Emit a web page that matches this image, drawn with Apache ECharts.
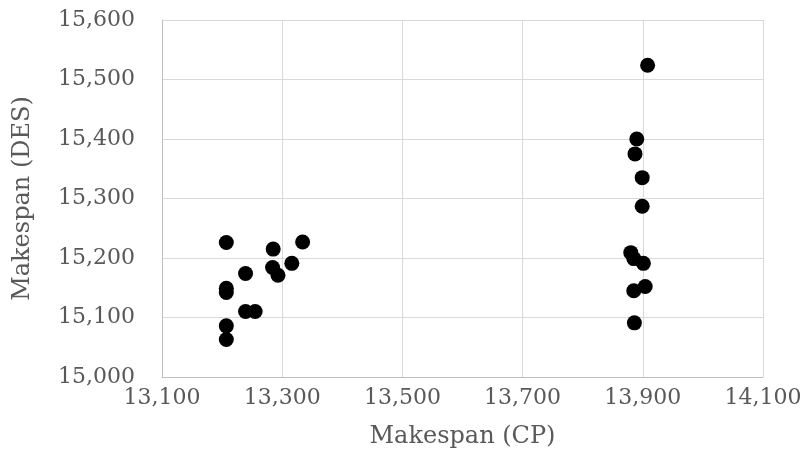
<!DOCTYPE html>
<html>
<head>
<meta charset="utf-8">
<script src="https://cdn.jsdelivr.net/npm/echarts@6/dist/echarts.min.js"></script>
<style>html,body{margin:0;padding:0;background:#fff}#c{width:800px;height:455px}</style>
</head>
<body>
<div id="c"></div>
<script>
var cpValues = [13207, 13285, 13334, 13316, 13284, 13293, 13239, 13207, 13207, 13239, 13255, 13207, 13207,
                13908, 13890, 13887, 13899, 13899, 13880, 13885, 13901, 13885, 13904, 13886];
var desValues = [15226, 15215, 15227, 15191, 15184, 15171, 15174, 15149, 15142, 15110, 15110, 15086, 15063,
                 15524, 15400, 15375, 15335, 15287, 15209, 15199, 15191, 15145, 15152, 15091];
var xTicks = [13100, 13300, 13500, 13700, 13900, 14100];
var yTicks = [15000, 15100, 15200, 15300, 15400, 15500, 15600];
var xTitle = 'Makespan (CP)';
var yTitle = 'Makespan (DES)';

var points = cpValues.map(function (v, i) { return [v, desValues[i]]; });
function fmt(v) { return v.toLocaleString('en-US'); }
var font = 'DejaVu Serif';
var chart = echarts.init(document.getElementById('c'));
chart.setOption({
  animation: false,
  grid: { left: 162, right: 37, top: 20, bottom: 78, containLabel: false, outerBoundsMode: 'none' },
  xAxis: {
    type: 'value', min: xTicks[0], max: xTicks[xTicks.length - 1], interval: 200,
    name: xTitle, nameLocation: 'middle', nameGap: 48,
    nameTextStyle: { fontFamily: font, fontSize: 24, color: '#595959' },
    axisLine: { show: true, lineStyle: { color: '#bfbfbf', width: 1 } },
    axisTick: { show: false },
    axisLabel: { fontFamily: font, fontSize: 22, color: '#595959', margin: 10, formatter: fmt },
    splitLine: { show: true, lineStyle: { color: '#d9d9d9', width: 1 } }
  },
  yAxis: {
    type: 'value', min: yTicks[0], max: yTicks[yTicks.length - 1], interval: 100,
    name: yTitle, nameLocation: 'middle', nameGap: 127,
    nameTextStyle: { fontFamily: font, fontSize: 24, color: '#595959' },
    axisLine: { show: true, lineStyle: { color: '#bfbfbf', width: 1 } },
    axisTick: { show: false },
    axisLabel: { fontFamily: font, fontSize: 22, color: '#595959', margin: 27, formatter: fmt },
    splitLine: { show: true, lineStyle: { color: '#d9d9d9', width: 1 } }
  },
  series: [{
    type: 'scatter',
    data: points,
    symbol: 'circle',
    symbolSize: 15,
    itemStyle: { color: '#000000', opacity: 1 }
  }]
});
</script>
</body>
</html>
